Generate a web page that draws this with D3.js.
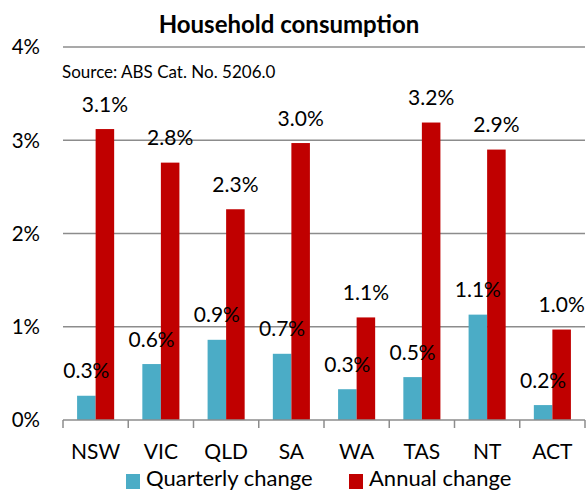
<!DOCTYPE html>
<html>
<head>
<meta charset="utf-8">
<script src="https://cdn.jsdelivr.net/npm/d3@7"></script>
<style>
  body { margin: 0; background: #fff; }
  svg { display: block; font-family: Lato, 'Open Sans', sans-serif; }
</style>
</head>
<body>
<svg id="chart" width="587" height="492"></svg>
<script>
// data (percent)
var states = ['NSW', 'VIC', 'QLD', 'SA', 'WA', 'TAS', 'NT', 'ACT'];
var quarterly = [0.26, 0.60, 0.86, 0.71, 0.33, 0.46, 1.13, 0.16];
var annual = [3.12, 2.76, 2.26, 2.97, 1.10, 3.19, 2.90, 0.97];
var seriesNames = ['Quarterly change', 'Annual change'];
var yTicks = [0, 1, 2, 3, 4];

var colors = ['#4BACC6', '#C00000'];
var gridColor = '#8c8c8c';

var svg = d3.select('#chart');

var x = d3.scaleBand().domain(states).range([63, 585]).paddingInner(0).paddingOuter(0);
var x1 = d3.scaleBand().domain(seriesNames).range([0, x.bandwidth()]).paddingInner(0).paddingOuter(0.76);
var y = d3.scaleLinear().domain([0, 4]).range([420, 47]);

// gridlines
svg.append('g').selectAll('line')
    .data(yTicks.filter(function(d){ return d > 0; }))
    .enter().append('line')
    .attr('x1', 63).attr('x2', 585)
    .attr('y1', function(d){ return y(d); })
    .attr('y2', function(d){ return y(d); })
    .attr('stroke', gridColor).attr('stroke-width', 1.5);

// y tick labels
svg.append('g').selectAll('text')
    .data(yTicks)
    .enter().append('text')
    .attr('x', 40)
    .attr('y', function(d){ return y(d); })
    .attr('dy', '0.36em')
    .attr('text-anchor', 'end')
    .attr('font-size', 20.5)
    .attr('fill', '#000')
    .text(function(d){ return d + '%'; });

// bars
var rows = states.map(function(s, i){ return { state: s, vals: [quarterly[i], annual[i]] }; });

var groups = svg.append('g').selectAll('g')
    .data(rows)
    .enter().append('g')
    .attr('transform', function(d){ return 'translate(' + x(d.state) + ',0)'; });

groups.selectAll('rect')
    .data(function(d){ return d.vals.map(function(v, j){ return { name: seriesNames[j], v: v, j: j }; }); })
    .enter().append('rect')
    .attr('x', function(d){ return x1(d.name); })
    .attr('width', x1.bandwidth())
    .attr('y', function(d){ return y(d.v); })
    .attr('height', function(d){ return y(0) - y(d.v); })
    .attr('fill', function(d){ return colors[d.j]; });

// bottom axis
var axisG = svg.append('g').attr('transform', 'translate(0,' + y(0) + ')');
axisG.append('line')
    .attr('x1', 63).attr('x2', 585)
    .attr('stroke', gridColor).attr('stroke-width', 1.5);
axisG.selectAll('line.tick')
    .data(d3.range(states.length + 1))
    .enter().append('line')
    .attr('class', 'tick')
    .attr('x1', function(i){ return 63 + i * x.step(); })
    .attr('x2', function(i){ return 63 + i * x.step(); })
    .attr('y1', 0).attr('y2', 8)
    .attr('stroke', gridColor).attr('stroke-width', 1.5);
axisG.selectAll('text.cat')
    .data(states)
    .enter().append('text')
    .attr('class', 'cat')
    .attr('x', function(d){ return x(d) + x.bandwidth() / 2; })
    .attr('y', 39)
    .attr('text-anchor', 'middle')
    .attr('font-size', 21)
    .text(function(d){ return d; });

// value labels
groups.selectAll('text')
    .data(function(d){ return d.vals.map(function(v, j){ return { name: seriesNames[j], v: v }; }); })
    .enter().append('text')
    .attr('x', function(d){ return x1(d.name) + x1.bandwidth() / 2; })
    .attr('y', function(d){ return y(d.v) - 25; })
    .attr('dy', '0.36em')
    .attr('text-anchor', 'middle')
    .attr('font-size', 21)
    .text(function(d){ return d.v.toFixed(1) + '%'; });

// title and source
svg.append('text')
    .attr('x', 289).attr('y', 33)
    .attr('text-anchor', 'middle')
    .attr('font-size', 24).attr('font-weight', 'bold')
    .text('Household consumption');

svg.append('text')
    .attr('x', 62).attr('y', 78)
    .attr('font-size', 17)
    .text('Source: ABS Cat. No. 5206.0');

// legend
var legend = svg.append('g');
var legendX = [126, 349];
seriesNames.forEach(function(name, j){
    legend.append('rect')
        .attr('x', legendX[j]).attr('y', 474)
        .attr('width', 14).attr('height', 15)
        .attr('fill', colors[j]);
    legend.append('text')
        .attr('x', legendX[j] + 20).attr('y', 486)
        .attr('font-size', 22)
        .text(name);
});
</script>
</body>
</html>
